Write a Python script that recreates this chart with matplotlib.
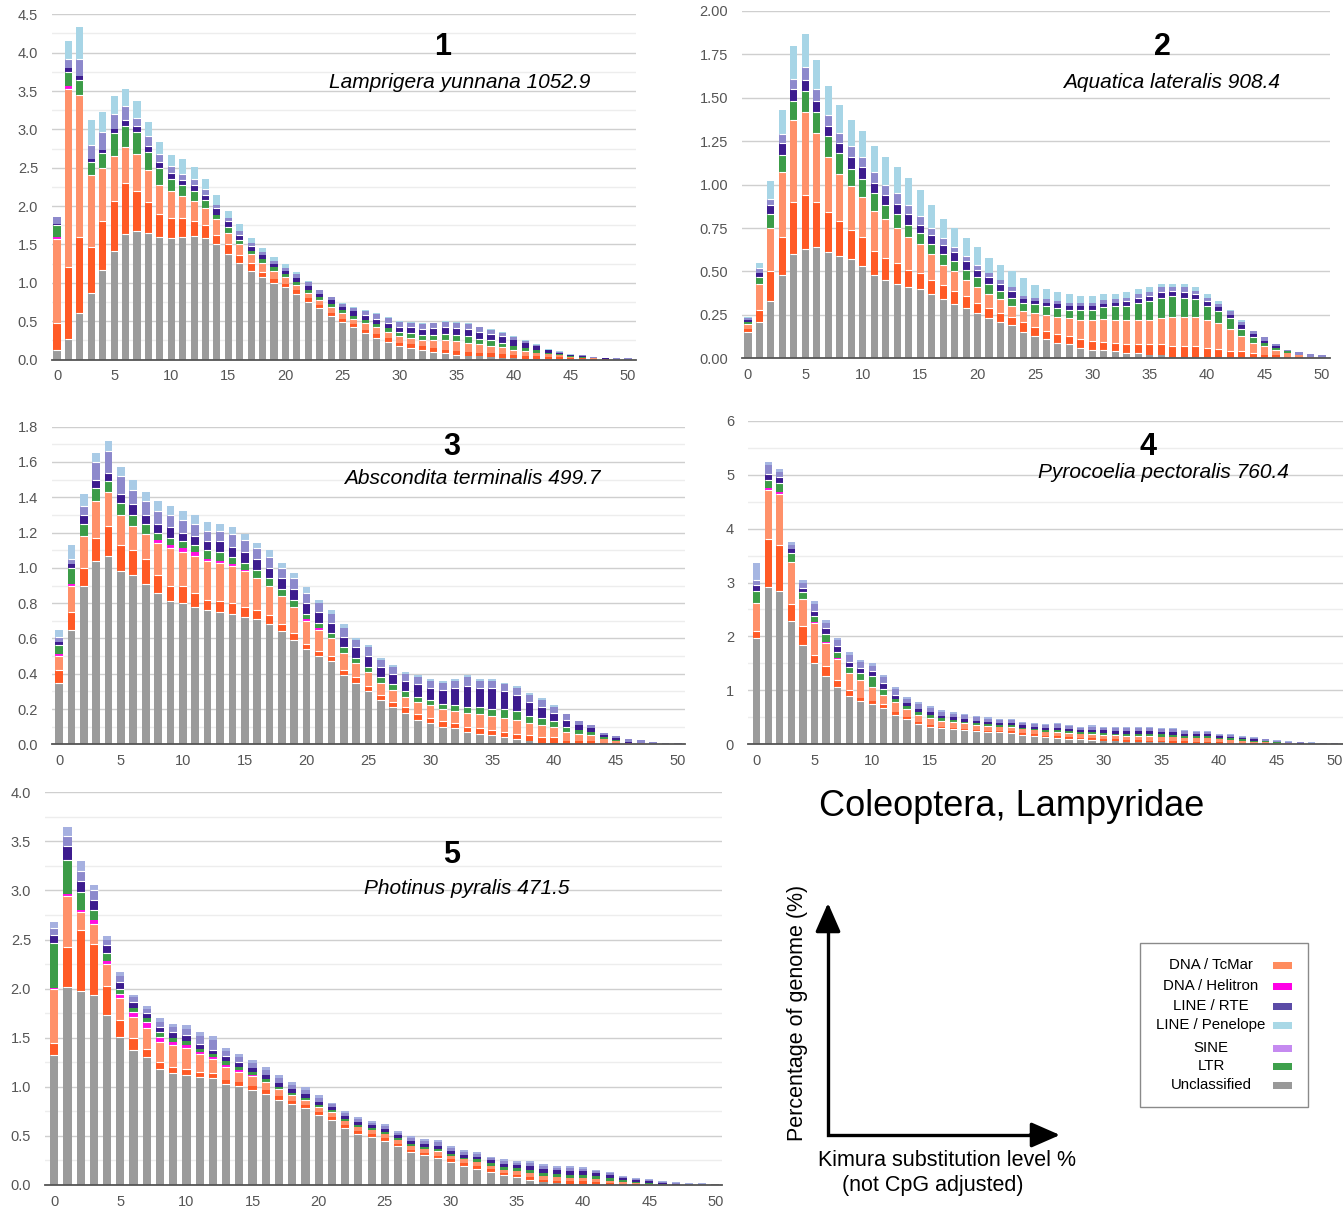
import numpy as np
import matplotlib.pyplot as plt

plt.rcParams["font.family"] = ["Liberation Sans", "DejaVu Sans"]

W, H = 1343, 1212
KIMURA = np.arange(51)

# ---- panel 1: Lamprigera yunnana ----
P1_GRAY = [.13, .27, .60, .87, 1.17, 1.42, 1.64, 1.68, 1.65, 1.6,
           1.59, 1.6, 1.61, 1.59, 1.5, 1.38, 1.26, 1.16, 1.08, 1.0,
           .94, .85, .75, .67, .57, .49, .42, .35, .28, .23,
           .17, .15, .12, .10, .08, .065, .05, .04, .03, .02,
           .02, .01, .01, .01, .01, .005, .005, 0, 0, 0, 0]
P1_RED = [.34, .93, 1.0, .6, .63, .65, .66, .52, .4, .3,
          .26, .25, .19, .16, .12, .12, .1, .1, .06, .05,
          .05, .05, .05, .04, .04, .04, .04, .04, .05, .05,
          .05, .05, .05, .05, .05, .05, .05, .05, .05, .05,
          .04, .04, .03, .02, .02, .01, .01, .005, .005, 0, 0]
P1_TCMAR = [1.1, 2.33, 1.85, .93, .69, .58, .47, .48, .42, .38,
            .35, .28, .27, .22, .21, .15, .14, .11, .12, .1,
            .08, .07, .07, .06, .07, .07, .07, .08, .09, .08,
            .08, .08, .09, .1, .12, .12, .12, .11, .1, .09,
            .07, .06, .05, .04, .03, .02, .01, .01, .005, 0, 0]
P1_HELITRON = [.03, .03] + [0] * 49
P1_LTR = [.15, .19, .2, .17, .2, .3, .28, .29, .23, .22,
          .15, .14, .13, .11, .05, .08, .06, .05, .05, .05,
          .04, .04, .04, .04, .04, .04, .04, .04, .04, .05,
          .06, .06, .06, .07, .08, .08, .08, .07, .07, .06,
          .05, .04, .03, .02, .01, .01, .01, 0, 0, 0, 0]
P1_RTE = [.02, .05, .04, .05, .04, .05, .07, .07, .08, .08,
          .08, .07, .08, .07, .09, .07, .06, .06, .05, .04,
          .04, .05, .05, .05, .05, .05, .06, .07, .07, .07,
          .07, .08, .08, .09, .09, .1, .1, .09, .08, .08,
          .07, .06, .05, .03, .02, .01, .01, .005, .005, 0, 0]
P1_LINE = [.09, .12, .23, .18, .24, .2, .18, .11, .14, .1,
           .09, .08, .07, .07, .05, .05, .05, .04, .04, .04,
           .04, .06, .05, .04, .04, .04, .04, .05, .06, .06,
           .06, .06, .06, .06, .07, .065, .06, .06, .06, .05,
           .04, .03, .02, .01, .01, .01, .01, .01, .005, .015, .015]
P1_PENELOPE = [0, .23, .41, .32, .25, .23, .23, .22, .18, .16,
               .15, .19, .16, .13, .12, .08, .09, .06, .05, .06,
               .05, .02, .01, .01, .01, .01, .01, .01, .01, .01,
               .01, .01, .01, .01, .01, .01, .01, .01, .01, .01,
               .01, .01, .01, .01, .01, .005, .005, .005, .005, .005, .005]

# ---- panel 2: Aquatica lateralis ----
P2_GRAY = [.15, .21, .33, .48, .6, .63, .64, .61, .59, .57,
           .53, .48, .45, .43, .41, .4, .37, .34, .31, .29,
           .26, .23, .21, .19, .15, .13, .11, .09, .08, .06,
           .05, .045, .04, .03, .03, .02, .02, .01, .01, .01,
           .01, .005, 0, 0, 0, 0, 0, 0, 0, 0, 0]
P2_RED = [.02, .07, .17, .22, .3, .31, .26, .23, .2, .17,
          .17, .14, .13, .12, .1, .09, .08, .08, .08, .07,
          .06, .06, .05, .05, .06, .05, .05, .05, .05, .05,
          .05, .05, .05, .05, .05, .06, .06, .06, .06, .06,
          .05, .05, .04, .04, .03, .02, .02, .01, .01, 0, 0]
P2_TCMAR = [.03, .15, .25, .37, .47, .48, .4, .32, .27, .25,
            .23, .23, .22, .2, .19, .17, .15, .12, .11, .09,
            .09, .08, .08, .06, .06, .08, .09, .1, .1, .11,
            .12, .13, .13, .14, .14, .14, .15, .17, .17, .17,
            .16, .15, .13, .09, .06, .05, .03, .02, .01, .01, 0]
P2_HELITRON = [0] * 51
P2_LTR = [.01, .04, .08, .1, .11, .12, .12, .12, .12, .1,
          .1, .1, .08, .08, .07, .06, .06, .06, .06, .06,
          .06, .06, .05, .05, .05, .05, .05, .05, .05, .06,
          .06, .07, .08, .08, .1, .11, .12, .12, .11, .1,
          .08, .07, .06, .04, .03, .02, .01, .01, 0, 0, 0]
P2_RTE = [.01, .02, .05, .07, .07, .06, .06, .06, .06, .07,
          .07, .06, .06, .06, .06, .05, .05, .05, .05, .05,
          .04, .04, .04, .04, .02, .02, .02, .02, .02, .02,
          .02, .02, .02, .03, .03, .03, .03, .03, .03, .03,
          .03, .02, .02, .02, .02, .01, .01, 0, 0, 0, 0]
P2_LINE = [.01, .03, .04, .05, .06, .08, .07, .06, .06, .06,
           .06, .06, .06, .06, .05, .05, .04, .04, .03, .03,
           .03, .02, .02, .02, .02, .02, .02, .02, .02, .02,
           .02, .02, .02, .02, .02, .02, .03, .02, .03, .02,
           .02, .02, .02, .02, .02, .02, .01, .01, .015, .015, .02]
P2_PENELOPE = [.01, .03, .1, .14, .19, .19, .17, .17, .16, .15,
               .15, .15, .16, .15, .16, .15, .13, .11, .11, .1,
               .1, .09, .09, .09, .1, .07, .06, .05, .05, .04,
               .04, .035, .03, .03, .03, .03, .02, .02, .02, .02,
               .02, .015, .01, .01, 0, 0, 0, 0, 0, 0, 0]

# ---- panel 3: Abscondita terminalis ----
P3_GRAY = [.35, .65, .9, 1.04, 1.07, .98, .96, .91, .86, .81,
           .8, .78, .76, .75, .74, .72, .71, .68, .64, .59,
           .54, .5, .47, .39, .35, .3, .25, .21, .18, .14,
           .12, .1, .09, .07, .06, .05, .04, .03, .02, .01,
           .01, 0, 0, 0, 0, 0, 0, 0, 0, 0, 0]
P3_RED = [.07, .1, .1, .13, .17, .15, .14, .14, .1, .09,
          .1, .08, .06, .06, .06, .06, .05, .05, .04, .04,
          .03, .03, .03, .03, .03, .03, .03, .03, .03, .03,
          .03, .03, .03, .03, .03, .03, .03, .03, .03, .03,
          .03, .02, .02, .02, .01, .01, 0, 0, 0, 0, 0]
P3_TCMAR = [.08, .15, .18, .21, .19, .17, .14, .14, .18, .21,
            .19, .21, .22, .22, .21, .2, .18, .17, .16, .15,
            .13, .12, .1, .1, .08, .08, .07, .07, .06, .07,
            .07, .07, .07, .08, .08, .08, .08, .08, .07, .07,
            .06, .05, .04, .03, .02, .01, .01, .005, 0, 0, 0]
P3_HELITRON = [.01, .01, 0, 0, 0, 0, 0, 0, .02, .02,
               .02, .02, .01, .01, .01, .01, 0, 0, 0, 0,
               .01, .01] + [0] * 29
P3_LTR = [.05, .09, .07, .07, .06, .07, .06, .06, .04, .04,
          .04, .04, .05, .05, .04, .04, .05, .04, .04, .04,
          .03, .03, .03, .03, .03, .03, .03, .03, .03, .03,
          .03, .03, .03, .03, .04, .04, .05, .05, .04, .04,
          .03, .03, .02, .02, .01, .005, 0, 0, 0, 0, 0]
P3_RTE = [.02, .02, .05, .05, .05, .05, .06, .05, .05, .06,
          .05, .05, .05, .06, .06, .06, .06, .06, .06, .06,
          .06, .06, .06, .06, .06, .06, .06, .06, .06, .07,
          .07, .08, .1, .12, .11, .12, .1, .09, .08, .06,
          .05, .04, .03, .02, .01, .01, .005, .005, 0, 0, 0]
P3_LINE = [.03, .03, .05, .1, .12, .1, .08, .08, .07, .07,
           .07, .07, .06, .06, .07, .07, .06, .06, .06, .06,
           .06, .05, .05, .05, .04, .05, .04, .04, .04, .04,
           .04, .04, .04, .05, .04, .04, .04, .04, .04, .04,
           .03, .03, .02, .02, .016, .012, .013, .012, .011, .008, .008]
P3_PENELOPE = [.04, .08, .07, .05, .06, .05, .06, .05, .06, .05,
               .05, .05, .05, .04, .04, .03, .03, .04, .03, .03,
               .03, .02, .02, .02, .01, .01, .01, .01, .01, .01,
               .01, .01, .01, .01, .01, .01, .01, .01, .01, .01,
               .01, 0, 0, 0, 0, 0, 0, 0, 0, 0, 0]

# ---- panel 4: Pyrocoelia pectoralis ----
P4_GRAY = [1.97, 2.92, 2.85, 2.29, 1.84, 1.51, 1.27, 1.06, .9, .8,
           .74, .67, .55, .46, .37, .32, .3, .28, .26, .24,
           .22, .22, .21, .18, .16, .13, .12, .1, .09, .08,
           .07, .06, .05, .05, .04, .04, .03, .03, .02, .02,
           .01, .01, .01, 0, 0, 0, 0, 0, 0, 0, 0]
P4_RED = [.13, .88, .84, .31, .36, .14, .18, .14, .1, .05,
          .06, .08, .05, .04, .04, .04, .03, .03, .03, .03,
          .03, .03, .03, .03, .03, .03, .03, .03, .03, .03,
          .03, .03, .03, .03, .03, .03, .03, .03, .03, .03,
          .03, .02, .02, .02, .015, .01, .005, 0, 0, 0, 0]
P4_TCMAR = [.52, .92, .96, .78, .5, .6, .43, .38, .32, .35,
            .26, .17, .18, .16, .14, .13, .11, .1, .1, .09,
            .09, .07, .08, .07, .07, .07, .08, .08, .07, .08,
            .08, .08, .08, .08, .08, .07, .07, .06, .06, .06,
            .05, .05, .04, .03, .025, .02, .01, .005, 0, 0, 0]
P4_HELITRON = [0, .03, .02, 0, 0, .02, .02, .02] + [0] * 43
P4_LTR = [.23, .15, .18, .17, .12, .1, .15, .12, .11, .12,
          .21, .11, .06, .05, .05, .05, .04, .04, .03, .03,
          .03, .03, .03, .03, .03, .03, .03, .03, .03, .03,
          .03, .03, .04, .04, .05, .05, .05, .04, .04, .04,
          .03, .03, .02, .02, .015, .01, .005, 0, 0, 0, 0]
P4_RTE = [.1, .12, .1, .07, .08, .1, .1, .1, .1, .1,
          .09, .1, .08, .06, .06, .05, .05, .05, .05, .05,
          .05, .05, .05, .04, .04, .05, .05, .05, .04, .05,
          .05, .05, .05, .05, .05, .04, .05, .04, .04, .04,
          .03, .03, .02, .02, .015, .01, .01, .01, .007, 0, 0]
P4_LINE = [.1, .16, .1, .08, .1, .13, .1, .11, .12, .1,
           .09, .11, .1, .07, .08, .08, .07, .07, .07, .06,
           .05, .05, .05, .05, .05, .05, .06, .05, .05, .06,
           .05, .05, .05, .05, .05, .05, .05, .05, .04, .04,
           .03, .03, .03, .03, .025, .02, .015, .02, .02, .02, .015]
P4_PENELOPE = [.32, .06, .05, .06, .05, .05, .05, .05, .06, .04,
               .05, .05, .04, .04, .05, .04, .04, .03, .03, .03,
               .03, .02, .02, .02, .02, .02, .02, .02, .02, .02,
               .02, .02, .02, .02, .02, .02, .02, .02, .02, .02,
               .02, .02, .01, .01, .01, .01, .01, .01, .01, .01, .01]

# ---- panel 5: Photinus pyralis ----
P5_GRAY = [1.32, 2.02, 1.98, 1.94, 1.73, 1.51, 1.38, 1.3, 1.18, 1.14,
           1.12, 1.1, 1.09, 1.03, 1.01, .97, .93, .87, .82, .78,
           .71, .66, .58, .52, .49, .45, .4, .34, .31, .27,
           .23, .19, .16, .13, .1, .08, .05, .03, .02, .01,
           .01, .01, 0, 0, 0, 0, 0, 0, 0, 0, .01]
P5_RED = [.13, .4, .62, .51, .3, .17, .12, .09, .07, .06,
          .06, .05, .05, .04, .04, .04, .04, .04, .04, .03,
          .03, .03, .03, .03, .03, .03, .02, .02, .02, .03,
          .03, .03, .03, .03, .02, .02, .03, .02, .02, .03,
          .03, .02, .02, .01, .01, .005, 0, 0, 0, 0, 0]
P5_TCMAR = [.55, .52, .18, .21, .22, .22, .21, .21, .21, .23,
            .22, .18, .14, .13, .1, .1, .08, .07, .06, .06,
            .05, .05, .04, .04, .04, .04, .04, .04, .04, .05,
            .04, .04, .04, .03, .03, .04, .04, .04, .04, .03,
            .03, .03, .02, .02, .01, .01, .005, 0, 0, 0, 0]
P5_HELITRON = [.01, .02, .02, .04, .03, .05, .05, .06, .05, .03,
               .03, .02, .02, .02, .02, .01] + [0] * 35
P5_LTR = [.46, .35, .18, .1, .08, .05, .04, .04, .05, .04,
          .04, .04, .03, .04, .03, .03, .03, .02, .02, .02,
          .02, .02, .02, .02, .02, .02, .02, .02, .02, .02,
          .02, .02, .03, .03, .03, .03, .03, .03, .03, .03,
          .03, .03, .03, .02, .015, .01, .005, 0, 0, 0, 0]
P5_RTE = [.08, .14, .12, .1, .08, .07, .06, .05, .05, .06,
          .06, .05, .05, .05, .05, .04, .04, .04, .04, .04,
          .04, .03, .03, .03, .03, .03, .03, .03, .03, .03,
          .03, .03, .03, .03, .03, .03, .04, .04, .04, .04,
          .04, .03, .03, .02, .015, .015, .01, .01, 0, 0, 0]
P5_LINE = [.07, .1, .1, .1, .06, .06, .05, .04, .05, .05,
           .06, .08, .1, .06, .05, .05, .05, .05, .04, .04,
           .04, .03, .03, .03, .02, .03, .02, .03, .03, .04,
           .03, .03, .03, .02, .03, .02, .03, .03, .02, .03,
           .02, .02, .02, .015, .015, .01, .01, .015, .015, .01, .005]
P5_PENELOPE = [.06, .1, .1, .06, .04, .04, .03, .03, .04, .03,
               .04, .04, .04, .03, .03, .03, .03, .03, .03, .03,
               .03, .02, .02, .02, .02, .02, .02, .02, .02, .02,
               .02, .02, .02, .02, .02, .02, .02, .02, .02, .02,
               .02, .01, .01, .01, .01, .01, .01, .01, .01, .01, 0]

NUMBERS = ["1", "2", "3", "4", "5"]
SPECIES = ["Lamprigera yunnana 1052.9", "Aquatica lateralis 908.4",
           "Abscondita terminalis 499.7", "Pyrocoelia pectoralis 760.4",
           "Photinus pyralis 471.5"]

LEGEND_LABELS = ["DNA / TcMar", "DNA / Helitron", "LINE / RTE", "LINE / Penelope",
                 "SINE", "LTR", "Unclassified"]
LEGEND_COLORS = ["#ff8c5e", "#ff00e6", "#5b4ba6", "#a9d8e6", "#c58af0", "#3ea04c", "#999999"]

# stacking order bottom -> top and colours
SEG_COLORS = ["#9b9b9b", "#ff5a26", "#ff916a", "#ff10e0", "#3c9c48", "#3d1c8e", "#8d89cc"]
BAR_W = 0.62

panels = [
    # series, (left, top, right, bottom) px, ymax, major step, minor step, fmt, xlim, penelope colour
    ([P1_GRAY, P1_RED, P1_TCMAR, P1_HELITRON, P1_LTR, P1_RTE, P1_LINE, P1_PENELOPE],
     (52, 14.3, 636, 359.5), 4.5, 0.5, 0.25, "{:.1f}", (-0.44, 50.7), "#a7d5e6"),
    ([P2_GRAY, P2_RED, P2_TCMAR, P2_HELITRON, P2_LTR, P2_RTE, P2_LINE, P2_PENELOPE],
     (742, 11, 1330, 358.3), 2.0, 0.25, None, "{:.2f}", (-0.52, 50.7), "#a7d5e6"),
    ([P3_GRAY, P3_RED, P3_TCMAR, P3_HELITRON, P3_LTR, P3_RTE, P3_LINE, P3_PENELOPE],
     (52, 426.7, 685, 744.3), 1.8, 0.2, 0.1, "{:.1f}", (-0.57, 50.57), "#a9cbe6"),
    ([P4_GRAY, P4_RED, P4_TCMAR, P4_HELITRON, P4_LTR, P4_RTE, P4_LINE, P4_PENELOPE],
     (748, 420.7, 1343, 744.3), 6, 1, 0.5, "{:.0f}", (-0.75, 50.7), "#a6b6e2"),
    ([P5_GRAY, P5_RED, P5_TCMAR, P5_HELITRON, P5_LTR, P5_RTE, P5_LINE, P5_PENELOPE],
     (45, 792.3, 722, 1185), 4.0, 0.5, 0.25, "{:.1f}", (-0.7, 50.5), "#a6b0e0"),
]

fig = plt.figure(figsize=(W / 100, H / 100), dpi=100)

for series, (l, t, r, b), ymax, step, minor, fmt, xlim, pen_color in panels:
    ax = fig.add_axes([l / W, 1 - b / H, (r - l) / W, (b - t) / H])
    bottom = np.zeros(len(KIMURA))
    colors = SEG_COLORS + [pen_color]
    stack = []
    for vals, c in zip(series, colors):
        vals = np.asarray(vals, dtype=float)
        assert len(vals) == len(KIMURA)
        ax.bar(KIMURA, vals, width=BAR_W, bottom=bottom, color=c,
               linewidth=0, zorder=3)
        bottom += vals
        stack.append(vals)

    # thin white separators between stacked families (only where both sides are visible)
    stack = np.array(stack)
    cum = np.cumsum(stack, axis=0)
    thr = ymax * 0.012
    xs0, xs1, ys = [], [], []
    for k in range(len(stack) - 1):
        above = cum[-1] - cum[k]
        ok = (stack[k] > thr) & (above > thr)
        xs0 += list(KIMURA[ok] - BAR_W / 2)
        xs1 += list(KIMURA[ok] + BAR_W / 2)
        ys += list(cum[k][ok])
    ax.hlines(ys, xs0, xs1, colors="white", linewidth=0.8, zorder=4)

    ax.set_xlim(*xlim)
    ax.set_ylim(0, ymax)
    major = np.arange(0, ymax + 1e-9, step)
    ax.set_yticks(major)
    ax.set_yticklabels([fmt.format(v) for v in major])
    if minor:
        ax.set_yticks(np.arange(0, ymax + 1e-9, minor), minor=True)
    ax.set_xticks(range(0, 51, 5))
    ax.grid(axis="y", which="major", color="#cfcfcf", linewidth=1.0, zorder=0)
    ax.grid(axis="y", which="minor", color="#ededed", linewidth=1.0, zorder=0)
    ax.set_axisbelow(True)
    for s in ["top", "right", "left"]:
        ax.spines[s].set_visible(False)
    ax.spines["bottom"].set_color("#555555")
    ax.spines["bottom"].set_linewidth(1.3)
    ax.spines["bottom"].set_zorder(5)
    ax.tick_params(which="both", length=0, labelsize=10.5, labelcolor="#555555")
    ax.tick_params(axis="y", pad=10)
    ax.tick_params(axis="x", pad=7)
    ax.set_facecolor("none")

# overlay in pixel coordinates for titles, arrows and legend
ov = fig.add_axes([0, 0, 1, 1])
ov.set_xlim(0, W)
ov.set_ylim(H, 0)
ov.axis("off")
ov.patch.set_alpha(0)

num_pos = [(443, 47), (1162, 47), (452, 447), (1148, 447), (452, 855)]
sp_pos = [(460, 83), (1172, 83), (472, 478), (1163, 472), (467, 888)]
for n, (x, y) in zip(NUMBERS, num_pos):
    ov.text(x, y, n, fontsize=22, fontweight="bold", ha="center", va="center")
for s, (x, y) in zip(SPECIES, sp_pos):
    ov.text(x, y, s, fontsize=15, style="italic", ha="center", va="center")

ov.text(1012, 807, "Coleoptera, Lampyridae", fontsize=26, ha="center", va="center")

ov.plot([828, 828, 1040], [912, 1135, 1135], color="black", lw=2.4, solid_joinstyle="miter")
ov.annotate("", xy=(828, 903), xytext=(828, 930),
            arrowprops=dict(arrowstyle="-|>,head_length=0.8,head_width=0.35", lw=2.4,
                            color="black", mutation_scale=22, shrinkA=0, shrinkB=0))
ov.annotate("", xy=(1060, 1135), xytext=(1030, 1135),
            arrowprops=dict(arrowstyle="-|>,head_length=0.8,head_width=0.35", lw=2.4,
                            color="black", mutation_scale=22, shrinkA=0, shrinkB=0))
ov.text(797, 1013, "Percentage of genome (%)", fontsize=15.5, rotation=90,
        ha="center", va="center")
ov.text(947, 1160, "Kimura substitution level %", fontsize=15.5, ha="center", va="center")
ov.text(933, 1186, "(not CpG adjusted)", fontsize=15.5, ha="center", va="center")

# legend box
ov.add_patch(plt.Rectangle((1140, 943), 168, 164, facecolor="white",
                           edgecolor="#8a8a8a", linewidth=1.0))
leg_y = [965, 986, 1006, 1025, 1048, 1066, 1085]
for lab, c, y in zip(LEGEND_LABELS, LEGEND_COLORS, leg_y):
    ov.text(1211, y, lab, fontsize=10.8, ha="center", va="center")
    ov.add_patch(plt.Rectangle((1273, y - 3), 19, 7, facecolor=c, edgecolor="none"))

fig.savefig("out.png", dpi=100)
